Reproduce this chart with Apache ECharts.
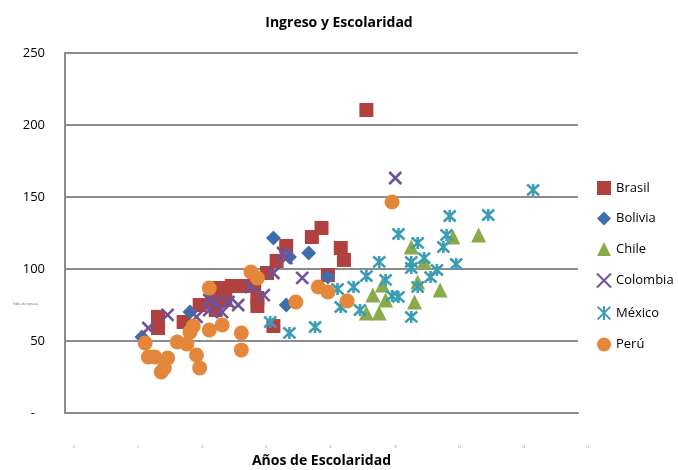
<!DOCTYPE html>
<html>
<head>
<meta charset="utf-8">
<script src="https://cdn.jsdelivr.net/npm/echarts@6/dist/echarts.min.js"></script>
<style>
html, body { margin: 0; padding: 0; background: #fff; }
#chart { width: 678px; height: 470px; }
</style>
</head>
<body>
<div id="chart"></div>
<script>
// [años de escolaridad, ingreso]
var brasil = [[9.4,210.4],[8.0,128.5],[7.7,122.2],[8.6,114.6],[8.7,106.3],[6.9,116],[6.6,105.6],[6.3,97.2],[8.2,95.8],[6.0,79.9],[6.0,74.3],[6.5,60.4],[5.9,88.2],[5.5,88.2],[5.2,88.2],[4.8,86.8],[4.2,75],[4.6,78.5],[4.7,71.5],[3.7,63.2],[2.9,66.7],[2.9,59],[5.0,78.5]];
var bolivia = [[2.4,52.8],[3.9,70.1],[6.5,121.5],[7.6,111.1],[7.0,108.3],[8.2,94.4],[6.9,75]];
var chile = [[10.8,115.3],[11.2,104.9],[12.1,122.2],[12.9,123.6],[9.9,88.9],[9.6,81.9],[10.0,78.5],[11.0,91],[10.9,77.1],[11.7,85.4],[9.8,69.4],[9.4,69.4]];
var colombia = [[10.3,163.2],[7.4,93.8],[6.2,81.9],[6.5,97.2],[6.8,111.1],[6.9,107.6],[5.8,87.5],[5.4,75],[5.1,77.1],[4.7,76.4],[4.5,78.5],[4.5,71.5],[4.9,70.1],[4.1,66.7],[3.2,68.1],[2.6,59]];
var mexico = [[14.6,154.9],[13.2,137.5],[12.0,136.8],[11.9,123.6],[10.4,124.3],[11.0,118.1],[11.8,115.3],[9.8,104.9],[10.8,104.9],[11.2,107.6],[10.8,100.7],[11.6,99.3],[12.2,103.5],[9.4,95.1],[10.0,92.4],[11.4,94.4],[9.0,87.5],[8.5,86.1],[10.2,81.3],[10.4,80.6],[11.0,87.5],[8.6,73.6],[9.2,71.5],[10.8,66.7],[6.4,63.2],[7.0,55.6],[7.8,59.7]];
var peru = [[2.5,48.6],[2.6,38.9],[2.8,38.9],[3.2,38.2],[3.0,28.5],[3.1,31.3],[3.5,49.3],[3.8,47.9],[3.9,56.3],[4.0,60.4],[4.1,40.3],[4.2,31.3],[4.5,57.6],[4.9,61.1],[5.5,55.6],[5.5,43.8],[4.5,86.8],[5.8,97.9],[6.0,93.8],[7.2,77.1],[7.9,87.5],[8.2,84],[8.8,77.8],[10.2,146.5]];

var xTicks = [0, 16, 2];
var yTicks = [0, 250, 50];

var font = "'Open Sans', 'Noto Sans', sans-serif";
var crossPath = 'path://M0,0L20,20M20,0L0,20';
var starPath = 'path://M0,0L20,20M20,0L0,20M10,-1L10,21';

function filled(name, data, symbol, color, size) {
	return {
		name: name,
		type: 'scatter',
		data: data,
		symbol: symbol,
		symbolSize: size,
		itemStyle: { color: color, opacity: 1 }
	};
}
function stroked(name, data, symbol, color) {
	return {
		name: name,
		type: 'scatter',
		data: data,
		symbol: symbol,
		symbolSize: 12,
		itemStyle: { color: 'transparent', borderColor: color, borderWidth: 2.6, opacity: 1 }
	};
}

var myChart = echarts.init(document.getElementById('chart'));
var option = {
	animation: false,
	textStyle: { fontFamily: font },
	title: [{
		text: 'Ingreso y Escolaridad',
		left: 'center',
		top: 11,
		textStyle: { fontSize: 14, fontWeight: 'bold', color: '#000', fontFamily: font }
	}, {
		text: 'Índice de ingresos',
		left: 8,
		top: 298,
		textStyle: { fontSize: 3, fontWeight: 'normal', color: '#666', fontFamily: font }
	}],
	legend: {
		orient: 'vertical',
		left: 596,
		top: 181,
		padding: 0,
		itemWidth: 14,
		itemHeight: 14,
		itemGap: 16.5,
		textStyle: { fontSize: 13, color: '#000', fontFamily: font },
		data: ['Brasil', 'Bolivia', 'Chile', 'Colombia', 'México', 'Perú']
	},
	grid: { left: 65, right: 100, top: 53, bottom: 57, outerBoundsMode: 'none' },
	xAxis: {
		type: 'value',
		min: xTicks[0],
		max: xTicks[1],
		interval: xTicks[2],
		name: 'Años de Escolaridad',
		nameLocation: 'middle',
		nameGap: 41,
		nameTextStyle: { fontSize: 14, fontWeight: 'bold', color: '#000', fontFamily: font },
		axisLine: { lineStyle: { color: '#8c8c8c', width: 2 } },
		axisTick: { show: false },
		splitLine: { show: false },
		axisLabel: { fontSize: 3, color: '#888', margin: 33, align: 'left', padding: [0, 0, 0, 8] }
	},
	yAxis: {
		type: 'value',
		min: yTicks[0],
		max: yTicks[1],
		interval: yTicks[2],
		axisLine: { show: true, lineStyle: { color: '#8c8c8c', width: 2 } },
		axisTick: { show: false },
		splitLine: { lineStyle: { color: '#8c8c8c', width: 2 } },
		axisLabel: {
			fontSize: 13,
			color: '#000',
			margin: 20,
			formatter: function(v) { return v === 0 ? '-   ' : v; }
		}
	},
	series: [
		filled('Brasil', brasil, 'rect', '#B0413E', 14),
		filled('Bolivia', bolivia, 'diamond', '#3E6DAC', 15),
		filled('Chile', chile, 'triangle', '#8AAB4A', 15),
		stroked('Colombia', colombia, crossPath, '#6F5399'),
		stroked('México', mexico, starPath, '#3B9CB5'),
		filled('Perú', peru, 'circle', '#E4873A', 15)
	]
};
myChart.setOption(option);
</script>
</body>
</html>
